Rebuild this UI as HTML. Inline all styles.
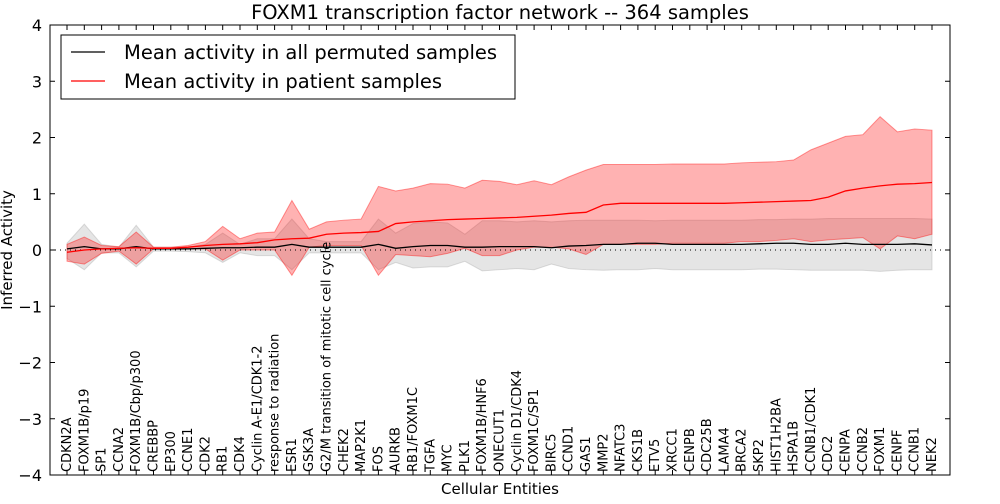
<!DOCTYPE html>
<html><head><meta charset="utf-8"><style>
body{margin:0;background:#fff;font-family:"DejaVu Sans","Liberation Sans",sans-serif}
</style></head><body>
<svg id="c" width="1000" height="500" xmlns="http://www.w3.org/2000/svg" font-family="DejaVu Sans, Liberation Sans, sans-serif"></svg>
<script>
const categories=["CDKN2A","FOXM1B/p19","SP1","CCNA2","FOXM1B/Cbp/p300","CREBBP","EP300","CCNE1","CDK2","RB1","CDK4","Cyclin A-E1/CDK1-2","response to radiation","ESR1","GSK3A","G2/M transition of mitotic cell cycle","CHEK2","MAP2K1","FOS","AURKB","RB1/FOXM1C","TGFA","MYC","PLK1","FOXM1B/HNF6","ONECUT1","Cyclin D1/CDK4","FOXM1C/SP1","BIRC5","CCND1","GAS1","MMP2","NFATC3","CKS1B","ETV5","XRCC1","CENPB","CDC25B","LAMA4","BRCA2","SKP2","HIST1H2BA","HSPA1B","CCNB1/CDK1","CDC2","CENPA","CCNB2","FOXM1","CENPF","CCNB1","NEK2"];
const patientMean=[-0.04,0,0.02,0.03,0.04,0.03,0.03,0.05,0.08,0.1,0.11,0.13,0.18,0.2,0.21,0.28,0.3,0.31,0.33,0.47,0.5,0.52,0.54,0.55,0.56,0.57,0.58,0.6,0.62,0.65,0.67,0.8,0.83,0.83,0.83,0.83,0.83,0.83,0.83,0.84,0.85,0.86,0.87,0.88,0.94,1.05,1.1,1.14,1.17,1.18,1.2];
const patientHigh=[0.1,0.23,0.08,0.06,0.32,0.05,0.05,0.08,0.15,0.42,0.2,0.3,0.32,0.88,0.37,0.5,0.53,0.55,1.13,1.05,1.1,1.18,1.17,1.1,1.24,1.22,1.16,1.23,1.16,1.3,1.42,1.52,1.52,1.52,1.52,1.53,1.53,1.53,1.53,1.55,1.56,1.57,1.6,1.78,1.9,2.02,2.05,2.37,2.1,2.15,2.13];
const patientLow=[-0.2,-0.25,-0.06,-0.02,-0.25,0.02,0.02,0.02,0.02,-0.18,0,0,0,-0.45,0.05,0.08,0.08,0.08,-0.45,-0.08,-0.1,-0.12,-0.06,0.03,-0.1,-0.1,0,0.05,0.05,0.02,-0.08,0.1,0.1,0.1,0.1,0.12,0.12,0.12,0.12,0.15,0.15,0.17,0.2,0.15,0.18,0.2,0.22,0.02,0.25,0.2,0.28];
const permMean=[0.02,0.06,0.02,0.02,0.06,0.02,0.02,0.02,0.03,0.04,0.04,0.05,0.05,0.1,0.05,0.05,0.05,0.05,0.1,0.03,0.06,0.08,0.08,0.05,0.05,0.06,0.06,0.06,0.04,0.07,0.08,0.1,0.1,0.12,0.12,0.1,0.1,0.1,0.1,0.1,0.11,0.12,0.12,0.1,0.1,0.12,0.1,0.1,0.1,0.11,0.09];
const permHigh=[0.12,0.46,0.1,0.05,0.44,0.05,0.05,0.05,0.1,0.3,0.1,0.2,0.2,0.55,0.2,0.15,0.15,0.15,0.55,0.3,0.47,0.5,0.48,0.28,0.52,0.52,0.5,0.52,0.5,0.52,0.53,0.53,0.53,0.53,0.52,0.53,0.53,0.53,0.53,0.53,0.54,0.54,0.55,0.55,0.56,0.56,0.56,0.56,0.56,0.56,0.55];
const permLow=[-0.15,-0.35,-0.05,-0.05,-0.3,-0.02,-0.02,-0.03,-0.05,-0.22,-0.05,-0.1,-0.1,-0.35,-0.05,-0.05,-0.05,-0.05,-0.35,-0.22,-0.32,-0.3,-0.3,-0.2,-0.37,-0.35,-0.33,-0.35,-0.25,-0.33,-0.35,-0.36,-0.35,-0.35,-0.33,-0.35,-0.35,-0.35,-0.35,-0.35,-0.34,-0.34,-0.35,-0.36,-0.36,-0.36,-0.36,-0.38,-0.36,-0.35,-0.35];
const yTicks=[-4,-3,-2,-1,0,1,2,3,4];
const NS="http://www.w3.org/2000/svg",svg=document.getElementById('c');
const L=50,R=950,T=25,B=475;
const x=i=>67+i*(932-67)/(categories.length-1);
const y=v=>250-v*56.25;
function mk(t,a,txt){const e=document.createElementNS(NS,t);for(const k in a)e.setAttribute(k,a[k]);if(txt!=null)e.textContent=txt;svg.appendChild(e);return e;}
function band(hi,lo,fill,name){let d=hi.map((v,i)=>(i?'L':'M')+x(i)+','+y(v)).join('');for(let i=lo.length-1;i>=0;i--)d+='L'+x(i)+','+y(lo[i]);
const p=mk('path',{d:d+'Z',fill:fill.c,'fill-opacity':fill.o,stroke:fill.s,'stroke-opacity':0.4});

}
function line(v,col,name){const p=mk('path',{d:v.map((a,i)=>(i?'L':'M')+x(i)+','+y(a)).join(''),fill:'none',stroke:col,'stroke-width':1.3});

}
band(permHigh,permLow,{c:'#aaaaaa',o:0.3,s:'#aaaaaa'},'permuted-band');
band(patientHigh,patientLow,{c:'#ff0000',o:0.3,s:'#ff0000'},'patient-band');
const z=mk('line',{x1:L,x2:R,y1:y(0),y2:y(0),stroke:'#000','stroke-dasharray':'1,4'});


line(permMean,'#000','permuted-mean-line');
line(patientMean,'#ff0000','patient-mean-line');
const fr=mk('rect',{x:L,y:T,width:R-L,height:B-T,fill:'none',stroke:'#000'});


yTicks.forEach(v=>{mk('line',{x1:L,x2:L+5,y1:y(v),y2:y(v),stroke:'#000'});mk('line',{x1:R-5,x2:R,y1:y(v),y2:y(v),stroke:'#000'});
const t=mk('text',{x:L-8,y:y(v)+6,'text-anchor':'end','font-size':16},(v<0?'\u2212'+(-v):''+v));

});
categories.forEach((c,i)=>{mk('line',{x1:x(i),x2:x(i),y1:B,y2:B-5,stroke:'#000'});mk('line',{x1:x(i),x2:x(i),y1:T,y2:T+5,stroke:'#000'});
const t=mk('text',{x:0,y:0,transform:`translate(${x(i)+4},${B-3}) rotate(-90)`,'font-size':13},c);

});
const ti=mk('text',{x:500,y:19,'text-anchor':'middle','font-size':19.5},'FOXM1 transcription factor network -- 364 samples');


const xl=mk('text',{x:500,y:494,'text-anchor':'middle','font-size':15},'Cellular Entities');


const yl=mk('text',{x:0,y:0,transform:'translate(12,250) rotate(-90)','text-anchor':'middle','font-size':15},'Inferred Activity');


const lg=mk('rect',{x:61,y:35,width:454,height:64,fill:'#fff',stroke:'#000'});


[['Mean activity in all permuted samples','#000',52],['Mean activity in patient samples','#ff0000',81]].forEach(([s,c,yy])=>{
mk('line',{x1:71,x2:105,y1:yy,y2:yy,stroke:c,'stroke-width':1.3});
const t=mk('text',{x:124,y:yy+7,'font-size':19.5},s);

});
</script>
</body></html>
